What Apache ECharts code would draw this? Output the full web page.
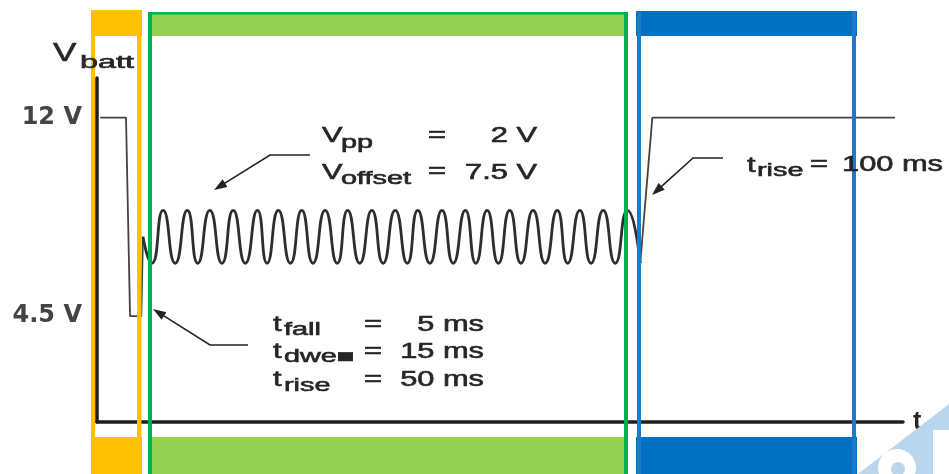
<!DOCTYPE html>
<html>
<head>
<meta charset="utf-8">
<script src="https://cdn.jsdelivr.net/npm/echarts@6/dist/echarts.min.js"></script>
<style>
  html, body { margin: 0; padding: 0; background: #fff; }
  #chart { width: 949px; height: 474px; }
</style>
</head>
<body>
<div id="chart"></div>
<script>
// Battery voltage profile of a cold-crank pulse (time axis in arbitrary units)

// Drop from 12 V to 4.5 V, dwell, then rise into the ripple
const stepT = [0.4, 3.6, 4.1, 5.5, 5.7];
const stepV = [12, 12, 4.5, 4.5, 7.5];

// Ripple: Vpp = 2 V around Voffset = 7.5 V (turning points)
const rippleT = [5.7, 6.8, 8.2, 9.7, 11.2, 12.5, 14.0, 15.5, 16.9, 18.4, 19.9,
  21.1, 22.5, 24.0, 25.4, 26.8, 28.3, 29.8, 31.1, 32.6, 34.1, 35.5, 37.0,
  38.5, 39.8, 41.3, 42.8, 44.2, 45.7, 47.0, 48.4, 49.8, 51.2, 52.6, 54.1,
  55.6, 57.1, 58.4, 59.9, 61.3, 62.8, 64.3, 65.8, 67.4];
const rippleV = [7.5, 6.5, 8.5, 6.5, 8.5, 6.5, 8.5, 6.5, 8.5, 6.5, 8.5,
  6.5, 8.5, 6.5, 8.5, 6.5, 8.5, 6.5, 8.5, 6.5, 8.5, 6.5, 8.5,
  6.5, 8.5, 6.5, 8.5, 6.5, 8.5, 6.5, 8.5, 6.5, 8.5, 6.5, 8.5,
  6.5, 8.5, 6.5, 8.5, 6.5, 8.5, 6.5, 8.5, 6.5];

// Recovery back to 12 V
const recoverT = [67.4, 68.9, 99.0];
const recoverV = [6.5, 12, 12];

// Labelled voltage levels on the y axis
const yTickValues = [4.5, 12];

const zip = (t, v) => t.map((x, i) => [x, v[i]]);

const INK = '#262626';
const MAIN = 'Liberation Sans, Arial, sans-serif';

function txt(x, y, text, size, sx, align) {
  return {
    type: 'text', x: x, y: y, scaleX: sx, z: 100,
    style: {
      text: text, fontSize: size, fontFamily: MAIN, fill: INK,
      stroke: INK, lineWidth: 0.6,
      align: align || 'left', verticalAlign: 'middle',
      textAlign: align || 'left', textVerticalAlign: 'middle'
    }
  };
}
const M = (x, y, s, a) => txt(x, y, s, 22, 1.4, a);
const S = (x, y, s) => txt(x, y, s, 18, 1.6, 'left');

function arrow(pts) {
  const n = pts.length;
  const [tx, ty] = pts[n - 1];
  const [px, py] = pts[n - 2];
  const dx = tx - px, dy = ty - py, L = Math.hypot(dx, dy);
  const ux = dx / L, uy = dy / L, len = 13, hw = 4.5;
  const bx = tx - ux * len, by = ty - uy * len;
  const line = pts.slice(0, n - 1).concat([[bx + ux * 2, by + uy * 2]]);
  return [
    { type: 'polyline', z: 100, shape: { points: line },
      style: { stroke: '#222', lineWidth: 1.6, fill: null } },
    { type: 'polygon', z: 100,
      shape: { points: [[tx, ty], [bx - uy * hw, by + ux * hw], [bx + uy * hw, by - ux * hw]] },
      style: { fill: '#222' } }
  ];
}

const rect = (x, y, w, h, fill) =>
  ({ type: 'rect', z: 100, shape: { x: x, y: y, width: w, height: h }, style: { fill: fill } });

const ORANGE = '#FFC000', GREEN_D = '#00B050', GREEN_L = '#92D050', BLUE = '#0070C0', BLUE_S = '#1F78C8';

const elements = [
  // watermark fragment, lower right
  { type: 'polygon', z: 99, shape: { points: [[858, 474], [949, 404], [949, 430], [933, 430], [933, 474]] },
    style: { fill: '#B9D6EC' } },
  { type: 'circle', z: 99, shape: { cx: 897, cy: 468, r: 19 }, style: { fill: '#fff' } },
  { type: 'circle', z: 99, shape: { cx: 898, cy: 469, r: 7 }, style: { fill: '#B9D6EC' } },

  // phase 1 frame (orange)
  rect(91, 10, 51, 26, ORANGE),
  rect(91, 10, 4, 464, ORANGE),
  rect(137, 10, 4.5, 464, ORANGE),
  rect(91, 437, 51, 37, ORANGE),

  // phase 2 frame (green)
  rect(148, 12, 480, 24, GREEN_L),
  rect(148, 12, 480, 2.5, GREEN_D),
  rect(152, 437, 472, 37, GREEN_L),
  rect(148, 12, 4, 462, GREEN_D),
  rect(624, 12, 4, 462, GREEN_D),

  // phase 3 frame (blue)
  rect(636, 11, 221, 25, BLUE),
  rect(636, 437, 221, 37, BLUE),
  rect(637, 11, 4, 463, BLUE_S),
  rect(852, 11, 4, 463, BLUE_S),

  // y axis title
  txt(53, 54, 'V', 26, 1.35, 'left'),
  txt(80, 63, 'batt', 19, 1.7, 'left'),

  // ripple parameters
  M(322, 136, 'V'), S(341, 143, 'pp'), M(437, 136, '=', 'center'), M(537, 136, '2 V', 'right'),
  M(322, 173, 'V'), S(341, 179, 'offset'), M(437, 172, '=', 'center'), M(537, 173, '7.5 V', 'right'),

  // drop parameters
  M(273, 325, 't'), S(284, 330, 'fall'), M(373, 325, '=', 'center'), M(484, 325, '5 ms', 'right'),
  M(273, 352, 't'), S(284, 357, 'dwe\u25A0'), M(373, 352, '=', 'center'), M(484, 352, '15 ms', 'right'),
  M(273, 380, 't'), S(284, 386, 'rise'), M(373, 380, '=', 'center'), M(484, 380, '50 ms', 'right'),

  // recovery parameter
  M(747, 166, 't'), S(757, 171, 'rise'), M(819, 165, '=', 'center'), M(943, 165, '100 ms', 'right')
]
  .concat(arrow([[310, 155], [270, 155], [214, 190]]))
  .concat(arrow([[248, 345], [210, 345], [153, 309]]))
  .concat(arrow([[723, 158], [693, 158], [652, 195]]));

const chart = echarts.init(document.getElementById('chart'), null, { renderer: 'canvas' });

chart.setOption({
  animation: false,
  backgroundColor: '#fff',
  grid: { left: 97, right: 46, top: 78, bottom: 52, containLabel: false },
  xAxis: {
    type: 'value', min: 0, max: 100,
    name: 't', nameLocation: 'end', nameGap: 10,
    nameTextStyle: { fontSize: 25, fontFamily: MAIN, color: INK, fontWeight: 'bold', verticalAlign: 'middle' },
    axisLine: { show: true, onZero: false, lineStyle: { color: '#1e1e1e', width: 3.5 } },
    axisTick: { show: false }, axisLabel: { show: false }, splitLine: { show: false }
  },
  yAxis: {
    type: 'value', min: 0.5, max: 13.5, interval: 0.5,
    axisLine: { show: true, onZero: false, lineStyle: { color: '#1e1e1e', width: 3.5 } },
    axisTick: { show: false }, splitLine: { show: false },
    axisLabel: {
      margin: 15, fontSize: 24, fontFamily: 'DejaVu Sans, sans-serif', fontWeight: 'bold', color: '#444',
      formatter: v => (yTickValues.indexOf(v) >= 0 ? v + ' V' : '')
    }
  },
  series: [
    { type: 'line', data: zip(stepT, stepV), showSymbol: false, smooth: false,
      lineStyle: { color: '#444', width: 1.8 } },
    { type: 'line', data: zip(rippleT, rippleV), showSymbol: false, smooth: 0.6,
      lineStyle: { color: '#2e2e2e', width: 2.8 } },
    { type: 'line', data: zip(recoverT, recoverV), showSymbol: false, smooth: false,
      lineStyle: { color: '#444', width: 1.8 } }
  ],
  graphic: { elements: elements }
});
</script>
</body>
</html>
